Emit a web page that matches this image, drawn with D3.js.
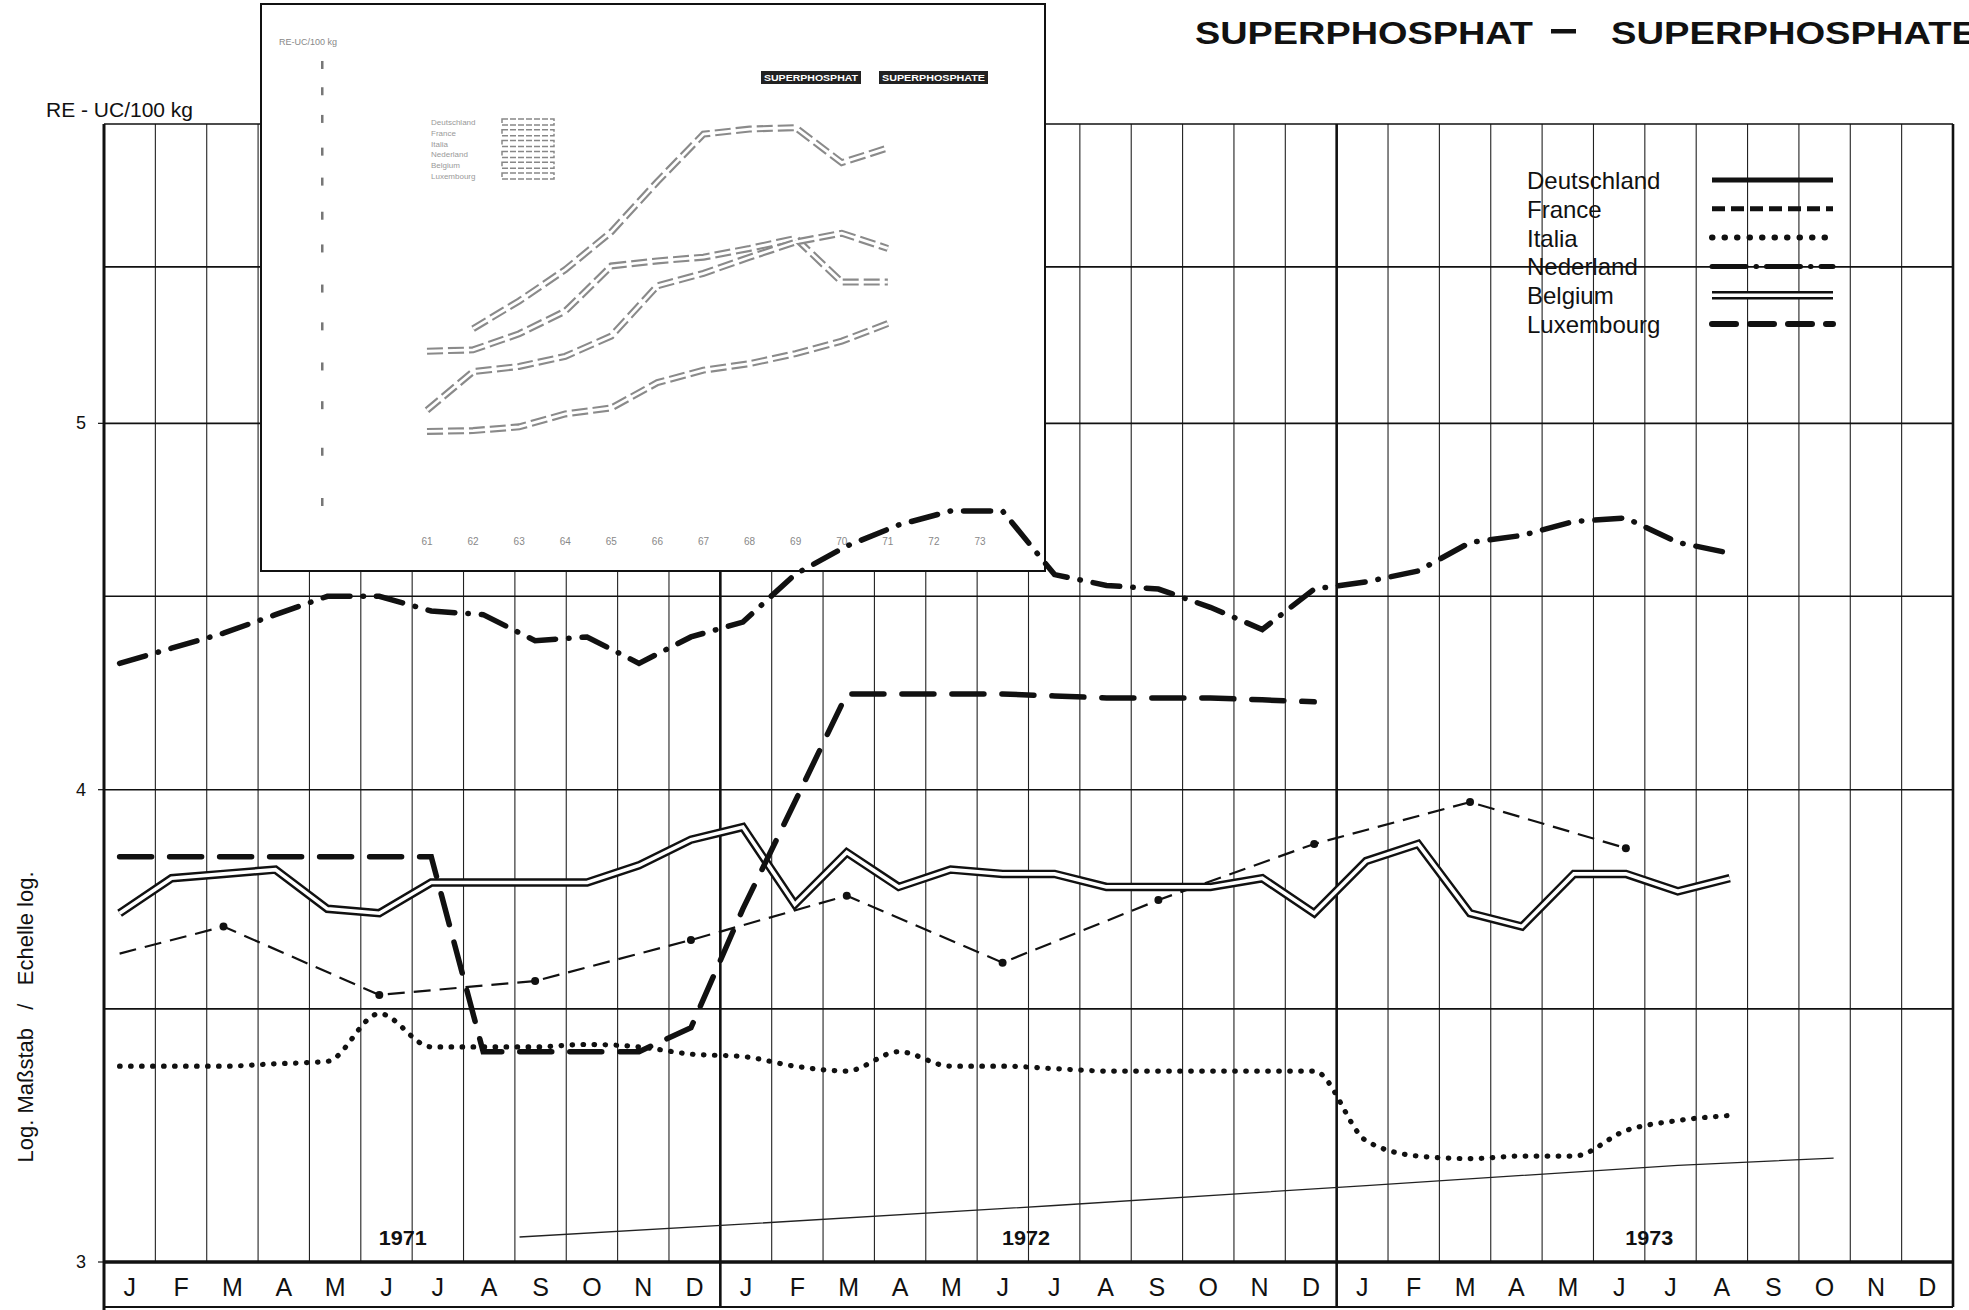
<!DOCTYPE html>
<html><head><meta charset="utf-8">
<script src="https://cdn.jsdelivr.net/npm/d3@7"></script>
<style>
body{margin:0;background:#fff}
svg{display:block}
text{font-family:"Liberation Sans",Arial,Helvetica,sans-serif;fill:#111}
</style>
</head><body><svg id="c" width="1969" height="1310"></svg>
<script>
// ---------- DATA ----------
const years = ["1971", "1972", "1973"];
const monthLetters = ["J","F","M","A","M","J","J","A","S","O","N","D"];
const yTickLabels = [3, 4, 5];
const yGridValues = [3.5, 4, 4.5, 5, 5.5, 6];
const legendNames = ["Deutschland","France","Italia","Nederland","Belgium","Luxembourg"];

// monthly values Jan 1971 .. Dec 1973 (RE-UC / 100 kg), null = no value
const nederland = [4.32,4.36,4.40,4.45,4.50,4.50,4.46,4.45,4.38,4.39,4.32,4.39,
                   4.43,4.56,4.64,4.70,4.74,4.74,4.56,4.53,4.52,4.47,4.41,4.52,
                   4.54,4.57,4.65,4.67,4.71,4.72,4.65,4.62,null,null,null,null];
const luxembourg = [3.84,3.84,3.84,3.84,3.84,3.84,3.84,3.41,3.41,3.41,3.41,3.46,
                    3.72,3.97,4.24,4.24,4.24,4.24,4.235,4.23,4.23,4.23,4.225,4.22,
                    null,null,null,null,null,null,null,null,null,null,null,null];
const belgium = [3.71,3.79,3.80,3.81,3.72,3.71,3.78,3.78,3.78,3.78,3.82,3.88,
                 3.91,3.73,3.85,3.77,3.81,3.80,3.80,3.77,3.77,3.77,3.79,3.71,
                 3.83,3.87,3.71,3.68,3.80,3.80,3.76,3.79,null,null,null,null];
const france = [3.62,null,3.68,null,null,3.53,null,null,3.56,null,null,3.65,
                null,null,3.75,null,null,3.60,null,null,3.74,null,null,3.87,
                null,null,3.97,null,null,3.86,null,null,null,null,null,null];
const italia = [3.38,3.38,3.38,3.385,3.39,3.49,3.42,3.42,3.42,3.425,3.42,3.405,
                3.40,3.38,3.37,3.41,3.38,3.38,3.375,3.37,3.37,3.37,3.37,3.37,
                3.23,3.20,3.195,3.20,3.20,3.25,3.27,3.28,null,null,null,null];
// thin solid line (month index, value)
const deutschlandMonth = [7.7, 12, 18, 24, 30, 33];
const deutschland = [3.046, 3.07, 3.105, 3.143, 3.182, 3.196];

// faded inset (ghost of another chart), arbitrary units 0-100
const insetLabels = ["61","62","63","64","65","66","67","68","69","70","71","72","73"];
const insetTicks = [0, 10.9, 21, 29.4, 38.1, 46.3, 55, 62.1, 69.5, 76, 83.1, 89.1, 94.8];
const insetA = [null,37.6,43.6,50.4,58.6,69.5,79.8,80.9,81.2,73.6,76.8];
const insetB = [32.7,33,36.5,41.4,51.2,52.3,53.1,55,57.2,47.7,47.7];
const insetC = [19.9,28.3,29.4,31.6,36,46.9,49.6,53.1,56.4,58.3,55];
const insetD = [15.3,15.5,16.3,19.1,20.4,25.9,28.6,30,32.2,34.9,38.7];

// ---------- LAYOUT ----------
const svg = d3.select("#c");
const L = 104, R = 1953, T = 124, B = 1262, BAND = 1307;
const nMonths = years.length * 12;
const x = d3.scaleLinear().domain([0, nMonths]).range([L, R]);        // grid
const xd = d3.scaleLinear().domain([0, 35]).range([119.6, 1937.5]);   // plotted points
const y = d3.scaleLog().domain([3, 6]).range([B, T]);

// ---------- GRID ----------
const g = svg.append("g");
for (let i = 1; i < nMonths; i++) {
  if (i % 12 === 0) continue;
  g.append("line").attr("x1", x(i)).attr("x2", x(i)).attr("y1", T).attr("y2", B)
    .attr("stroke", "#222").attr("stroke-width", 1.1);
}
yGridValues.forEach(v => {
  g.append("line").attr("x1", L).attr("x2", R).attr("y1", y(v)).attr("y2", y(v))
    .attr("stroke", "#111").attr("stroke-width", 1.6);
});
[12, 24].forEach(i => {
  g.append("line").attr("x1", x(i)).attr("x2", x(i)).attr("y1", T).attr("y2", BAND)
    .attr("stroke", "#111").attr("stroke-width", 2.6);
});
g.append("line").attr("x1", L).attr("x2", L).attr("y1", T).attr("y2", 1310)
  .attr("stroke", "#111").attr("stroke-width", 3);
g.append("line").attr("x1", R).attr("x2", R).attr("y1", T).attr("y2", BAND)
  .attr("stroke", "#111").attr("stroke-width", 2.6);
g.append("line").attr("x1", L).attr("x2", R).attr("y1", B).attr("y2", B)
  .attr("stroke", "#111").attr("stroke-width", 3.5);
g.append("line").attr("x1", L).attr("x2", R).attr("y1", BAND).attr("y2", BAND)
  .attr("stroke", "#111").attr("stroke-width", 2);

// y tick labels
yTickLabels.forEach(v => {
  svg.append("text").attr("x", 86).attr("y", y(v) + 6).attr("text-anchor", "end")
    .attr("font-size", 18).text(v);
  svg.append("line").attr("x1", L - 6).attr("x2", L).attr("y1", y(v)).attr("y2", y(v))
    .attr("stroke", "#111").attr("stroke-width", 1.2);
});
svg.append("text").attr("x", 46).attr("y", 117).attr("font-size", 21).text("RE - UC/100 kg");
svg.append("text").attr("transform", "translate(33,1017) rotate(-90)")
  .attr("text-anchor", "middle").attr("font-size", 22).style("white-space", "pre")
  .text("Log. Maßstab   /   Echelle log.");

// month labels + year labels
years.forEach((yr, k) => {
  monthLetters.forEach((m, j) => {
    svg.append("text").attr("x", x(k * 12 + j + 0.5)).attr("y", 1296)
      .attr("text-anchor", "middle").attr("font-size", 25).text(m);
  });
  svg.append("text").attr("x", xd(k * 12 + 5.45)).attr("y", 1245)
    .attr("text-anchor", "middle").attr("font-size", 20).attr("font-weight", "bold")
    .attr("textLength", 48).attr("lengthAdjust", "spacingAndGlyphs").text(yr);
});

// ---------- INSET (faded overlay) ----------
const ins = svg.append("g");
ins.append("rect").attr("x", 261).attr("y", 4).attr("width", 784).attr("height", 567)
  .attr("fill", "#fff").attr("stroke", "#111").attr("stroke-width", 2);
const ix = d3.scaleLinear().domain([0, insetLabels.length - 1]).range([427, 980]);
const iy = d3.scaleLinear().domain([0, 100]).range([502, 41]);
insetTicks.forEach(v => {
  ins.append("rect").attr("x", ix(-2.3)).attr("y", iy(v) - 4).attr("width", 2.5).attr("height", 8)
    .attr("fill", "#777");
});
insetLabels.forEach((t, i) => {
  ins.append("text").attr("x", ix(i)).attr("y", 545).attr("text-anchor", "middle")
    .attr("font-size", 10).style("fill", "#888").text(t);
});
ins.append("text").attr("x", 279).attr("y", 45).attr("font-size", 9).style("fill", "#888").text("RE-UC/100 kg");
[["SUPERPHOSPHAT", 761, 100], ["SUPERPHOSPHATE", 879, 109]].forEach(([t, x0, w]) => {
  ins.append("rect").attr("x", x0).attr("y", 71).attr("width", w).attr("height", 13).attr("fill", "#222");
  ins.append("text").attr("x", x0 + w / 2).attr("y", 81).attr("text-anchor", "middle")
    .attr("font-size", 9).attr("font-weight", "bold").style("fill", "#fff")
    .attr("textLength", w - 6).attr("lengthAdjust", "spacingAndGlyphs").text(t);
});
legendNames.forEach((n, i) => {
  const yy = 122 + 10.8 * i;
  ins.append("text").attr("x", 431).attr("y", yy + 3).attr("font-size", 8).style("fill", "#999").text(n);
  ins.append("rect").attr("x", 502).attr("y", yy - 3).attr("width", 52).attr("height", 6)
    .attr("fill", "#fff").attr("stroke", "#888").attr("stroke-width", 1.5).attr("stroke-dasharray", "6,2");
});
const iline = d3.line().defined(d => d != null).x((d, i) => ix(i)).y(d => iy(d));
[insetA, insetB, insetC, insetD].forEach(s => {
  ins.append("path").attr("d", iline(s)).attr("fill", "none").attr("stroke", "#8a8a8a")
    .attr("stroke-width", 7).attr("stroke-dasharray", "16,5");
  ins.append("path").attr("d", iline(s)).attr("fill", "none").attr("stroke", "#fff")
    .attr("stroke-width", 2.8);
});

// ---------- SERIES ----------
svg.append("clipPath").attr("id", "plot").append("rect")
  .attr("x", L).attr("y", T - 10).attr("width", R - L).attr("height", B - T + 10);
const s = svg.append("g").attr("clip-path", "url(#plot)");
const mline = d3.line().defined(d => d != null).x((d, i) => xd(i)).y(d => y(d));
const pts = arr => arr.map((v, i) => [i, v]).filter(d => d[1] != null);
const pline = d3.line().x(d => xd(d[0])).y(d => y(d[1]));

// thin line
s.append("path").attr("d", pline(deutschland.map((v, i) => [deutschlandMonth[i], v])))
  .attr("fill", "none").attr("stroke", "#222").attr("stroke-width", 1.3);
// Italia dotted
s.append("path").attr("d", d3.line().curve(d3.curveMonotoneX).x(d => xd(d[0])).y(d => y(d[1]))(pts(italia)))
  .attr("fill", "none").attr("stroke", "#111").attr("stroke-width", 5.2)
  .attr("stroke-linecap", "round").attr("stroke-dasharray", "0.5,10.5");
// France thin dashed
s.append("path").attr("d", pline(pts(france))).attr("fill", "none").attr("stroke", "#111")
  .attr("stroke-width", 2.2).attr("stroke-dasharray", "17,9");
pts(france).slice(1).forEach(d => {
  s.append("circle").attr("cx", xd(d[0])).attr("cy", y(d[1])).attr("r", 4).attr("fill", "#111");
});
// Belgium double line
s.append("path").attr("d", mline(belgium)).attr("fill", "none").attr("stroke", "#111")
  .attr("stroke-width", 8.5).attr("stroke-linejoin", "miter");
s.append("path").attr("d", mline(belgium)).attr("fill", "none").attr("stroke", "#fff")
  .attr("stroke-width", 3.6).attr("stroke-linejoin", "miter");
// Luxembourg long dash
s.append("path").attr("d", mline(luxembourg)).attr("fill", "none").attr("stroke", "#111")
  .attr("stroke-width", 5.5).attr("stroke-linecap", "round").attr("stroke-dasharray", "32,18");
// Nederland dash-dot
s.append("path").attr("d", mline(nederland)).attr("fill", "none").attr("stroke", "#111")
  .attr("stroke-width", 5.5).attr("stroke-linecap", "round").attr("stroke-dasharray", "27,13,0.5,13");

// ---------- TITLE & LEGEND ----------
svg.append("text").attr("x", 1195).attr("y", 44).attr("font-size", 32).attr("font-weight", "bold")
  .attr("textLength", 338).attr("lengthAdjust", "spacingAndGlyphs").text("SUPERPHOSPHAT");
svg.append("rect").attr("x", 1551).attr("y", 29).attr("width", 25).attr("height", 4.5).attr("fill", "#111");
svg.append("text").attr("x", 1611).attr("y", 44).attr("font-size", 32).attr("font-weight", "bold")
  .attr("textLength", 366).attr("lengthAdjust", "spacingAndGlyphs").text("SUPERPHOSPHATE");

const legStyles = [
  {w: 5, dash: null},
  {w: 5, dash: "13,6"},
  {w: 6, dash: "0.5,12", cap: "round"},
  {w: 5, dash: "34,10,0.5,10", cap: "round"},
  {w: 8.5, dbl: true},
  {w: 6, dash: "24,14", cap: "round"}
];
legendNames.forEach((n, i) => {
  const cy = 180 + 28.8 * i;
  svg.append("text").attr("x", 1527).attr("y", cy + 9).attr("font-size", 24).text(n);
  const st = legStyles[i];
  const ln = svg.append("line").attr("x1", 1712).attr("x2", 1833).attr("y1", cy).attr("y2", cy)
    .attr("stroke", "#111").attr("stroke-width", st.w);
  if (st.dash) ln.attr("stroke-dasharray", st.dash);
  if (st.cap) ln.attr("stroke-linecap", st.cap);
  if (st.dbl) svg.append("line").attr("x1", 1712).attr("x2", 1833).attr("y1", cy).attr("y2", cy)
    .attr("stroke", "#fff").attr("stroke-width", 3.4);
});
</script>
</body></html>
